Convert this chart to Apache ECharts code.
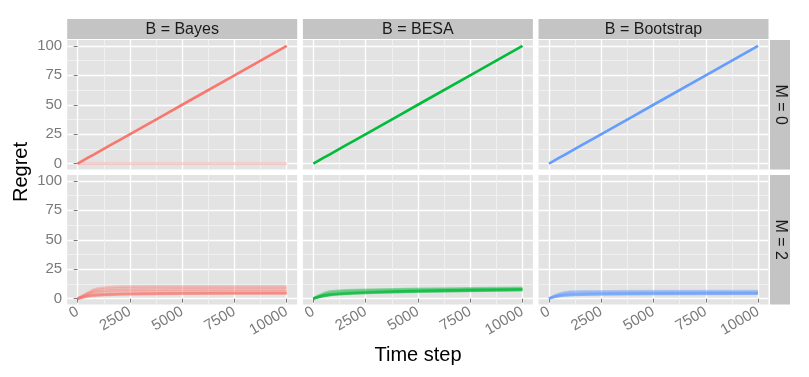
<!DOCTYPE html>
<html><head><meta charset="utf-8">
<script src="https://cdn.jsdelivr.net/npm/echarts@6/dist/echarts.min.js"></script>
<style>html,body{margin:0;padding:0;background:#fff}#c{width:809px;height:377px}</style>
</head><body><div id="c"></div>
<script>
// ---------- data ----------
const timeSteps = [0, 250, 500, 750, 1000, 1500, 2000, 3000, 4000, 5000, 7500, 10000];
const xTicks = [0, 2500, 5000, 7500, 10000];
const xMinor = [1250, 3750, 6250, 8750];
const yTicks = [0, 25, 50, 75, 100];
const yMinor = [12.5, 37.5, 62.5, 87.5];
const methods = ['Bayes', 'BESA', 'Bootstrap'];
const mValues = [0, 2];

const linearRegret = [0, 2.5, 5, 7.5, 10, 15, 20, 30, 40, 50, 75, 100];
const zeroRegret   = [0, 0, 0, 0, 0, 0, 0, 0, 0, 0, 0, 0];

// number of runs following each trajectory (M = 0)
const bayesM0Counts = [12, 1];       // linear, zero
const besaM0Counts = [12];
const bootM0Counts = [12];

// M = 2 runs
const bayesM2Runs = [
  [0, 2.5, 5.0, 7.5, 8.8, 9.8, 10.2, 10.4, 10.4, 10.4, 10.4, 10.4],
  [0, 2.3, 4.6, 6.5, 7.6, 8.4, 8.7, 8.9, 9.0, 9.0, 9.0, 9.0],
  [0, 2.0, 4.0, 5.5, 6.3, 6.9, 7.2, 7.4, 7.5, 7.6, 7.6, 7.6],
  [0, 1.8, 3.4, 4.6, 5.3, 5.8, 6.0, 6.2, 6.3, 6.3, 6.3, 6.3],
  [0, 1.2, 2.2, 2.8, 3.2, 3.6, 3.9, 4.2, 4.4, 4.5, 4.6, 4.7],
  [0, 1.1, 2.0, 2.6, 3.0, 3.4, 3.7, 4.0, 4.2, 4.3, 4.5, 4.6],
  [0, 1.3, 2.4, 3.0, 3.4, 3.8, 4.1, 4.4, 4.6, 4.7, 4.9, 5.0],
  [0, 1.0, 1.8, 2.4, 2.8, 3.2, 3.5, 3.8, 4.0, 4.1, 4.3, 4.4]
];
const besaM2Runs = [
  [0, 2.5, 4.5, 6.0, 6.5, 7.0, 7.3, 7.7, 8.0, 8.3, 8.8, 9.2],
  [0, 2.0, 3.8, 5.0, 5.6, 6.2, 6.6, 7.0, 7.4, 7.7, 8.2, 8.6],
  [0, 1.5, 2.6, 3.4, 3.9, 4.5, 5.0, 5.6, 6.1, 6.5, 7.2, 7.8],
  [0, 1.4, 2.4, 3.2, 3.7, 4.3, 4.8, 5.4, 5.9, 6.3, 7.0, 7.5],
  [0, 1.3, 2.2, 3.0, 3.5, 4.1, 4.6, 5.2, 5.7, 6.1, 6.8, 7.3],
  [0, 1.6, 2.8, 3.6, 4.1, 4.7, 5.2, 5.8, 6.3, 6.7, 7.4, 8.0],
  [0, 1.2, 2.0, 2.8, 3.3, 3.9, 4.4, 5.0, 5.5, 5.9, 6.6, 7.1]
];
const bootM2Runs = [
  [0, 2.4, 4.2, 5.3, 5.9, 6.2, 6.3, 6.3, 6.4, 6.4, 6.4, 6.4],
  [0, 2.0, 3.6, 4.6, 5.1, 5.4, 5.5, 5.6, 5.6, 5.7, 5.7, 5.7],
  [0, 1.4, 2.3, 2.8, 3.1, 3.4, 3.6, 3.8, 3.9, 4.0, 4.1, 4.2],
  [0, 1.3, 2.1, 2.6, 2.9, 3.3, 3.5, 3.7, 3.8, 3.9, 4.0, 4.1],
  [0, 1.5, 2.5, 3.0, 3.3, 3.6, 3.8, 4.0, 4.1, 4.2, 4.3, 4.4],
  [0, 1.7, 2.9, 3.6, 4.0, 4.3, 4.5, 4.6, 4.7, 4.8, 4.9, 5.0]
];

// ---------- layout / style ----------
const colors = ['#F8766D', '#00BA38', '#619CFF'];
const colLeft = [67.2, 302.9, 538.5];
const panelW = 230;
const rowTop = [40, 175];
const panelH = 129.5;
const runAlpha = 0.33;

const panels = [
  [ [{v: linearRegret, n: bayesM0Counts[0]}, {v: zeroRegret, n: bayesM0Counts[1]}],
    [{v: linearRegret, n: besaM0Counts[0]}],
    [{v: linearRegret, n: bootM0Counts[0]}] ],
  [ bayesM2Runs.map(v => ({v, n: 1})),
    besaM2Runs.map(v => ({v, n: 1})),
    bootM2Runs.map(v => ({v, n: 1})) ]
];

const grids = [], xAxes = [], yAxes = [], series = [], graphics = [];
const tickColor = '#7A7A7A';
const txtFont = 'Liberation Sans, Arial, Helvetica, sans-serif';
const plain = v => String(v);

// minor axes first (indices 0..5), major axes after (6..11)
for (let r = 0; r < 2; r++) for (let c = 0; c < 3; c++) {
  const p = r * 3 + c;
  grids.push({left: colLeft[c], top: rowTop[r], width: panelW, height: panelH,
    show: true, backgroundColor: '#E3E3E3', borderWidth: 0, containLabel: false});
  xAxes.push({type: 'value', gridIndex: p, position: 'bottom', min: -500, max: 10500,
    axisLine: {show: false}, axisTick: {show: false, customValues: xMinor},
    axisLabel: {show: false, customValues: xMinor},
    splitLine: {show: true, lineStyle: {color: '#F0F0F0', width: 1}}});
  yAxes.push({type: 'value', gridIndex: p, position: 'left', min: -5, max: 105,
    axisLine: {show: false}, axisTick: {show: false, customValues: yMinor},
    axisLabel: {show: false, customValues: yMinor},
    splitLine: {show: true, lineStyle: {color: '#F0F0F0', width: 1}}});
}
for (let r = 0; r < 2; r++) for (let c = 0; c < 3; c++) {
  const p = r * 3 + c;
  const showX = r === 1, showY = c === 0;
  xAxes.push({type: 'value', gridIndex: p, position: 'bottom', min: -500, max: 10500,
    axisLine: {show: false},
    axisTick: {show: showX, length: 4, customValues: xTicks, lineStyle: {color: tickColor, width: 1}},
    axisLabel: {show: showX, customValues: xTicks, rotate: 30, margin: 6, formatter: plain,
      color: tickColor, fontSize: 15, fontFamily: txtFont},
    splitLine: {show: true, lineStyle: {color: '#FFFFFF', width: 1.4}}});
  yAxes.push({type: 'value', gridIndex: p, position: 'left', min: -5, max: 105,
    axisLine: {show: false},
    axisTick: {show: showY, length: 4, customValues: yTicks, lineStyle: {color: tickColor, width: 1}},
    axisLabel: {show: showY, customValues: yTicks, margin: 5, formatter: plain,
      color: tickColor, fontSize: 15, fontFamily: txtFont},
    splitLine: {show: true, lineStyle: {color: '#FFFFFF', width: 1.4}}});
  panels[r][c].forEach(run => {
    series.push({type: 'line', xAxisIndex: 6 + p, yAxisIndex: 6 + p,
      data: timeSteps.map((t, i) => [t, run.v[i]]),
      showSymbol: false, silent: true, animation: false,
      lineStyle: {color: colors[c], width: 2.6, opacity: 1 - Math.pow(1 - runAlpha, run.n)},
      itemStyle: {color: colors[c]}});
  });
}

// strips
methods.forEach((m, c) => {
  graphics.push({type: 'rect', shape: {x: colLeft[c], y: 19, width: panelW, height: 20},
    style: {fill: '#C4C4C4'}, silent: true});
  graphics.push({type: 'text', x: colLeft[c] + panelW / 2, y: 29.5,
    style: {text: 'B = ' + m, fill: '#1A1A1A', font: '16px ' + txtFont,
      textAlign: 'center', textVerticalAlign: 'middle'}, silent: true});
});
mValues.forEach((m, r) => {
  graphics.push({type: 'rect', shape: {x: 770, y: rowTop[r], width: 20, height: panelH},
    style: {fill: '#C4C4C4'}, silent: true});
  graphics.push({type: 'text', x: 780, y: rowTop[r] + panelH / 2, rotation: -Math.PI / 2,
    style: {text: 'M = ' + m, fill: '#1A1A1A', font: '16px ' + txtFont,
      textAlign: 'center', textVerticalAlign: 'middle'}, silent: true});
});
// axis titles
graphics.push({type: 'text', x: 21, y: 172, rotation: Math.PI / 2,
  style: {text: 'Regret', fill: '#000', font: '20px ' + txtFont,
    textAlign: 'center', textVerticalAlign: 'middle'}, silent: true});
graphics.push({type: 'text', x: 418, y: 355,
  style: {text: 'Time step', fill: '#000', font: '20px ' + txtFont,
    textAlign: 'center', textVerticalAlign: 'middle'}, silent: true});

const chart = echarts.init(document.getElementById('c'), null, {renderer: 'canvas'});
chart.setOption({
  animation: false,
  backgroundColor: '#FFFFFF',
  grid: grids, xAxis: xAxes, yAxis: yAxes, series: series,
  graphic: graphics
});
</script>
</body></html>
